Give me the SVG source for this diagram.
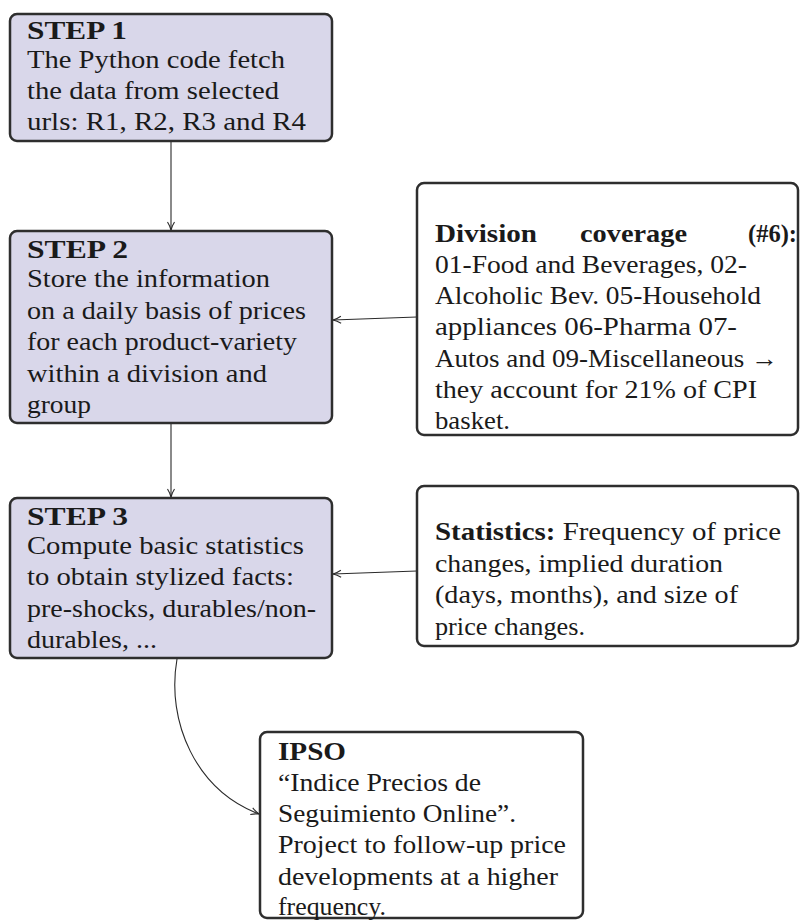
<svg xmlns="http://www.w3.org/2000/svg" width="800" height="920" viewBox="0 0 800 920">
<style>
.step{fill:#d9d7ea;stroke:#2e2e2e;stroke-width:2.5}
.note{fill:#ffffff;stroke:#2e2e2e;stroke-width:2.5}
text{font-family:"Liberation Serif","DejaVu Serif",serif;font-size:25px;fill:#1a1a1a}
.b{font-weight:bold}
.conn{fill:none;stroke:#2a2a2a;stroke-width:1.1}
</style>
<defs>
<marker id="arr" viewBox="0 0 10 10" refX="9" refY="5" markerWidth="10" markerHeight="10" markerUnits="userSpaceOnUse" orient="auto">
<path d="M1,1.5 Q5,4 9,5 Q5,6 1,8.5" fill="none" stroke="#2a2a2a" stroke-width="1.1"/>
</marker>
</defs>
<g id="connectors">
<line class="conn" x1="171" y1="141" x2="171" y2="230" marker-end="url(#arr)"/>
<line class="conn" x1="171" y1="423" x2="171" y2="497" marker-end="url(#arr)"/>
<line class="conn" x1="417" y1="317" x2="333" y2="320" marker-end="url(#arr)"/>
<line class="conn" x1="417" y1="571" x2="333" y2="574" marker-end="url(#arr)"/>
<path class="conn" d="M177,659 C166,722 196,790 259,814" marker-end="url(#arr)"/>
</g>
<g id="step1">
<rect class="step" x="10" y="14" width="322" height="127" rx="7"/>
<text x="27" y="39" class="b" textLength="100" lengthAdjust="spacingAndGlyphs">STEP 1</text>
<text x="27" y="68" textLength="258" lengthAdjust="spacingAndGlyphs">The Python code fetch</text>
<text x="27" y="99" textLength="252" lengthAdjust="spacingAndGlyphs">the data from selected</text>
<text x="27" y="130" textLength="279" lengthAdjust="spacingAndGlyphs">urls: R1, R2, R3 and R4</text>
</g>
<g id="step2">
<rect class="step" x="10" y="231" width="322" height="192" rx="7"/>
<text x="27" y="258" class="b" textLength="101" lengthAdjust="spacingAndGlyphs">STEP 2</text>
<text x="27" y="287" textLength="243" lengthAdjust="spacingAndGlyphs">Store the information</text>
<text x="27" y="319" textLength="279" lengthAdjust="spacingAndGlyphs">on a daily basis of prices</text>
<text x="27" y="350" textLength="270" lengthAdjust="spacingAndGlyphs">for each product-variety</text>
<text x="27" y="382" textLength="240" lengthAdjust="spacingAndGlyphs">within a division and</text>
<text x="27" y="413" textLength="64" lengthAdjust="spacingAndGlyphs">group</text>
</g>
<g id="step3">
<rect class="step" x="10" y="498" width="322" height="160" rx="7"/>
<text x="27" y="525" class="b" textLength="101" lengthAdjust="spacingAndGlyphs">STEP 3</text>
<text x="27" y="554" textLength="277" lengthAdjust="spacingAndGlyphs">Compute basic statistics</text>
<text x="27" y="585" textLength="267" lengthAdjust="spacingAndGlyphs">to obtain stylized facts:</text>
<text x="27" y="617" textLength="289" lengthAdjust="spacingAndGlyphs">pre-shocks, durables/non-</text>
<text x="27" y="648" textLength="130" lengthAdjust="spacingAndGlyphs">durables, ...</text>
</g>
<g id="division">
<rect class="note" x="417" y="183" width="381" height="252" rx="7"/>
<text x="435" y="242" class="b" textLength="102" lengthAdjust="spacingAndGlyphs">Division</text>
<text x="580" y="242" class="b" textLength="107" lengthAdjust="spacingAndGlyphs">coverage</text>
<text x="748" y="242" class="b" textLength="49" lengthAdjust="spacingAndGlyphs">(#6):</text>
<text x="435" y="273" textLength="312" lengthAdjust="spacingAndGlyphs">01-Food and Beverages, 02-</text>
<text x="435" y="304" textLength="326" lengthAdjust="spacingAndGlyphs">Alcoholic Bev.  05-Household</text>
<text x="435" y="335" textLength="302" lengthAdjust="spacingAndGlyphs">appliances 06-Pharma 07-</text>
<text x="435" y="367" textLength="343" lengthAdjust="spacingAndGlyphs">Autos and 09-Miscellaneous →</text>
<text x="435" y="398" textLength="322" lengthAdjust="spacingAndGlyphs">they account for 21% of CPI</text>
<text x="435" y="429" textLength="75" lengthAdjust="spacingAndGlyphs">basket.</text>
</g>
<g id="statistics">
<rect class="note" x="417" y="486" width="381" height="160" rx="7"/>
<text x="435" y="540" textLength="346" lengthAdjust="spacingAndGlyphs"><tspan class="b">Statistics:</tspan> Frequency of price</text>
<text x="435" y="572" textLength="288" lengthAdjust="spacingAndGlyphs">changes, implied duration</text>
<text x="435" y="603" textLength="303" lengthAdjust="spacingAndGlyphs">(days, months), and size of</text>
<text x="435" y="635" textLength="150" lengthAdjust="spacingAndGlyphs">price changes.</text>
</g>
<g id="ipso">
<rect class="note" x="260" y="732" width="323" height="186" rx="7"/>
<text x="278" y="760" class="b" textLength="68" lengthAdjust="spacingAndGlyphs">IPSO</text>
<text x="278" y="791" textLength="203" lengthAdjust="spacingAndGlyphs">“Indice Precios de</text>
<text x="278" y="822" textLength="238" lengthAdjust="spacingAndGlyphs">Seguimiento Online”.</text>
<text x="278" y="853" textLength="288" lengthAdjust="spacingAndGlyphs">Project to follow-up price</text>
<text x="278" y="885" textLength="280" lengthAdjust="spacingAndGlyphs">developments at a higher</text>
<text x="278" y="915" textLength="108" lengthAdjust="spacingAndGlyphs">frequency.</text>
</g>
</svg>
